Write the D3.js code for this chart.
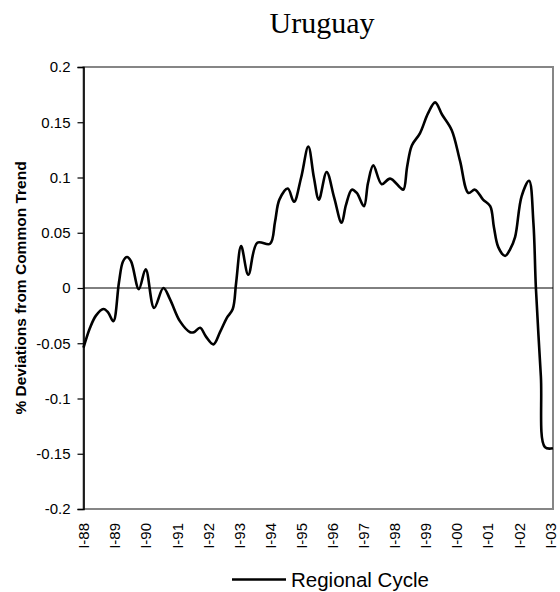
<!DOCTYPE html>
<html lang="en">
<head>
    <meta charset="UTF-8">
    <title>Uruguay</title>
    <script src="https://cdn.jsdelivr.net/npm/d3@7"></script>
    <style>
        body { margin: 0; background: #fff; }
        svg text { font-family: "Liberation Sans", Arial, sans-serif; fill: #000; }
    </style>
</head>
<body>
<svg id="chart" width="560" height="592"></svg>
<script>
    // time in decimal years, value = % deviation from common trend
    var times = [1988.00, 1988.21, 1988.40, 1988.64, 1988.79, 1988.96, 1989.14, 1989.27, 1989.40, 1989.53,
        1989.78, 1990.00, 1990.27, 1990.57, 1990.78, 1991.10, 1991.43, 1991.55, 1991.75, 1991.94,
        1992.18, 1992.39, 1992.61, 1992.80, 1992.91, 1993.07, 1993.30, 1993.59, 1994.00, 1994.16,
        1994.30, 1994.57, 1994.77, 1995.00, 1995.23, 1995.41, 1995.57, 1995.82, 1996.06, 1996.30,
        1996.44, 1996.63, 1996.79, 1997.02, 1997.15, 1997.32, 1997.59, 1997.86, 1998.18, 1998.29,
        1998.41, 1998.56, 1998.82, 1999.08, 1999.31, 1999.53, 1999.84, 2000.11, 2000.38, 2000.59,
        2000.85, 2001.08, 2001.20, 2001.34, 2001.56, 2001.72, 2001.88, 2002.09, 2002.33, 2002.47,
        2002.55, 2002.71, 2002.84, 2003.10];
    var regionalCycle = [-0.054, -0.036, -0.025, -0.019, -0.022, -0.030, 0.005, 0.024, 0.028, 0.024,
        -0.001, 0.017, -0.018, 0.000, -0.010, -0.030, -0.040, -0.040, -0.036, -0.044,
        -0.051, -0.040, -0.027, -0.019, 0.005, 0.038, 0.012, 0.041, 0.040, 0.060,
        0.080, 0.090, 0.078, 0.100, 0.128, 0.100, 0.080, 0.105, 0.082, 0.059,
        0.075, 0.089, 0.086, 0.074, 0.095, 0.111, 0.094, 0.099, 0.091, 0.089,
        0.110, 0.129, 0.140, 0.158, 0.168, 0.157, 0.143, 0.115, 0.086, 0.089,
        0.080, 0.074, 0.055, 0.037, 0.029, 0.035, 0.046, 0.083, 0.097, 0.059,
        0.000, -0.080, -0.144, -0.145];
    var tickYears = [1988, 1989, 1990, 1991, 1992, 1993, 1994, 1995, 1996, 1997, 1998, 1999, 2000, 2001, 2002, 2003];
    var tickLabels = ["I-88", "I-89", "I-90", "I-91", "I-92", "I-93", "I-94", "I-95", "I-96", "I-97",
        "I-98", "I-99", "I-00", "I-01", "I-02", "I-03"];
    var yTicks = [-0.2, -0.15, -0.1, -0.05, 0, 0.05, 0.1, 0.15, 0.2];

    var plotLeft = 83.5, plotRight = 553, plotTop = 67, plotBottom = 509;
    var svg = d3.select("#chart");

    var x = d3.scaleLinear().domain([1988, 2003.1]).range([plotLeft, plotRight]);
    var y = d3.scaleLinear().domain([-0.2, 0.2]).range([plotBottom, plotTop]);

    // title
    svg.append("text")
        .attr("x", 322).attr("y", 33)
        .attr("text-anchor", "middle")
        .style("font-family", "'Liberation Serif', 'Times New Roman', serif")
        .style("font-size", "30px")
        .text("Uruguay");

    // plot frame (grey)
    svg.append("rect")
        .attr("x", plotLeft).attr("y", plotTop)
        .attr("width", plotRight - plotLeft).attr("height", plotBottom - plotTop)
        .attr("fill", "none").attr("stroke", "#868686").attr("stroke-width", 2);

    // zero line
    svg.append("line")
        .attr("x1", plotLeft).attr("x2", plotRight)
        .attr("y1", y(0)).attr("y2", y(0))
        .attr("stroke", "#000").attr("stroke-width", 1);

    // y axis
    var yAxis = svg.append("g")
        .attr("transform", "translate(" + plotLeft + ",0)")
        .call(d3.axisLeft(y).tickValues(yTicks).tickSize(6).tickPadding(7)
            .tickFormat(function (d) { return String(+d.toFixed(2)); }));
    yAxis.select(".domain").attr("stroke", "#000").attr("stroke-width", 1.6);
    yAxis.selectAll(".tick line").attr("stroke", "#000").attr("stroke-width", 1.2);
    yAxis.selectAll("text").style("font-size", "15px")
        .style("font-family", "'Liberation Sans', Arial, sans-serif");

    // x labels
    var xAxis = svg.append("g")
        .attr("transform", "translate(0," + plotBottom + ")")
        .call(d3.axisBottom(x).tickValues(tickYears).tickSize(0)
            .tickFormat(function (d, i) { return tickLabels[i]; }));
    xAxis.select(".domain").remove();
    xAxis.selectAll("text")
        .style("font-size", "15px")
        .style("font-family", "'Liberation Sans', Arial, sans-serif")
        .attr("text-anchor", "end")
        .attr("transform", "rotate(-90)")
        .attr("x", -14).attr("y", 0).attr("dy", "0.35em");

    // y axis title
    svg.append("text")
        .attr("transform", "translate(26," + y(0) + ") rotate(-90)")
        .attr("text-anchor", "middle")
        .style("font-size", "15.5px")
        .style("font-weight", "bold")
        .text("% Deviations from Common Trend");

    // series
    var pts = times.map(function (t, i) { return [t, regionalCycle[i]]; });
    var line = d3.line()
        .x(function (d) { return x(d[0]); })
        .y(function (d) { return y(d[1]); })
        .curve(d3.curveCatmullRom.alpha(0.5));
    svg.append("path")
        .datum(pts)
        .attr("d", line)
        .attr("fill", "none")
        .attr("stroke", "#000")
        .attr("stroke-width", 2.6)
        .attr("stroke-linejoin", "round");

    // legend
    svg.append("line")
        .attr("x1", 232).attr("x2", 286)
        .attr("y1", 579.5).attr("y2", 579.5)
        .attr("stroke", "#000").attr("stroke-width", 2.6);
    svg.append("text")
        .attr("x", 291).attr("y", 587)
        .style("font-size", "20.5px")
        .text("Regional Cycle");
</script>
</body>
</html>
